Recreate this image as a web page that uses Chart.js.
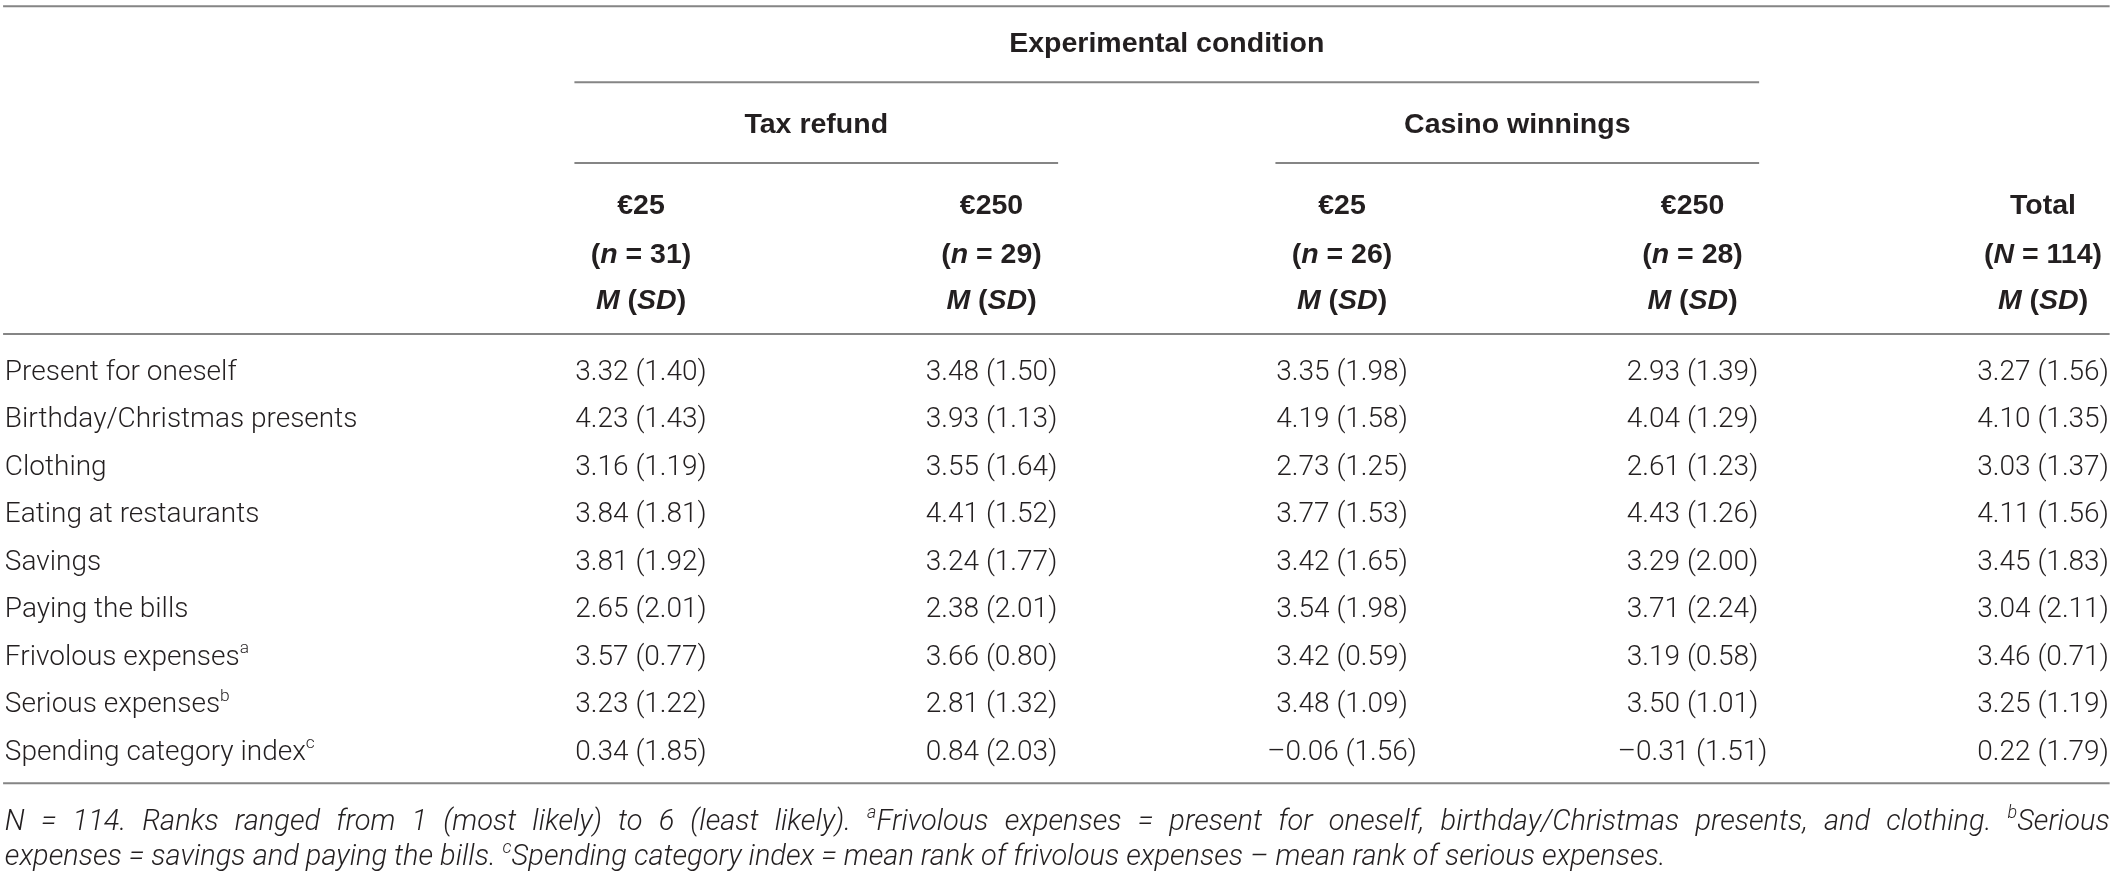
<!DOCTYPE html>
<html lang="en">
<head>
<meta charset="utf-8">
<title>Spending category ranks by experimental condition</title>
<script src="https://cdn.jsdelivr.net/npm/chart.js@4.4.1/dist/chart.umd.min.js"></script>
<style>
  html, body { margin: 0; padding: 0; background: #fff; }
  canvas { display: block; }
</style>
</head>
<body>
<canvas id="table" width="2117" height="876"></canvas>
<script>

// row labels and their footnote marks
var categories = ['Present for oneself', 'Birthday/Christmas presents', 'Clothing',
                  'Eating at restaurants', 'Savings', 'Paying the bills',
                  'Frivolous expenses', 'Serious expenses', 'Spending category index'];
var categoryNotes = ['', '', '', '', '', '', 'a', 'b', 'c'];

// column headings
var spanner = 'Experimental condition';
var conditions = ['Tax refund', 'Casino winnings'];
var amounts = ['€25', '€250', '€25', '€250', 'Total'];
var sampleSizes = [31, 29, 26, 28, 114];

// M (SD) per column
var taxRefund25M  = [3.32, 4.23, 3.16, 3.84, 3.81, 2.65, 3.57, 3.23, 0.34];
var taxRefund25SD = [1.40, 1.43, 1.19, 1.81, 1.92, 2.01, 0.77, 1.22, 1.85];
var taxRefund250M  = [3.48, 3.93, 3.55, 4.41, 3.24, 2.38, 3.66, 2.81, 0.84];
var taxRefund250SD = [1.50, 1.13, 1.64, 1.52, 1.77, 2.01, 0.80, 1.32, 2.03];
var casino25M  = [3.35, 4.19, 2.73, 3.77, 3.42, 3.54, 3.42, 3.48, -0.06];
var casino25SD = [1.98, 1.58, 1.25, 1.53, 1.65, 1.98, 0.59, 1.09, 1.56];
var casino250M  = [2.93, 4.04, 2.61, 4.43, 3.29, 3.71, 3.19, 3.50, -0.31];
var casino250SD = [1.39, 1.29, 1.23, 1.26, 2.00, 2.24, 0.58, 1.01, 1.51];
var totalM  = [3.27, 4.10, 3.03, 4.11, 3.45, 3.04, 3.46, 3.25, 0.22];
var totalSD = [1.56, 1.35, 1.37, 1.56, 1.83, 2.11, 0.71, 1.19, 1.79];

var columnMeans = [taxRefund25M, taxRefund250M, casino25M, casino250M, totalM];
var columnSDs = [taxRefund25SD, taxRefund250SD, casino25SD, casino250SD, totalSD];

// table note, as runs of text (i = italic, sup = superscript)
var noteLine1 = [
  {t: 'N = 114. Ranks ranged from 1 (most likely) to 6 (least likely). ', i: 1},
  {t: 'a', i: 1, sup: 1},
  {t: 'Frivolous expenses = present for oneself, birthday/Christmas presents, and clothing. ', i: 1},
  {t: 'b', i: 1, sup: 1},
  {t: 'Serious', i: 1}
];
var noteLine2 = [
  {t: 'expenses = savings and paying the bills. ', i: 1},
  {t: 'c', i: 1, sup: 1},
  {t: 'Spending category index = mean rank of frivolous expenses \u2013 mean rank of serious expenses.', i: 1}
];


// where things sit, in scale units (x: column number, y: row number)
var labelX = -0.815, ruleLeft = -0.82, ruleRight = 5.19, spanHalf = 0.19;
var rows = {
  topRule: -7.66, spanner: -6.9, spannerRule: -6.06, condition: -5.2, conditionRule: -4.36,
  amount: -3.49, size: -2.47, stat: -1.49, headRule: -0.76,
  bottomRule: 8.7, note1: 9.47, note2: 10.2
};

var FONT = 'Roboto, "Liberation Sans", Arial, sans-serif';
var BOLD_FONT = '"Liberation Sans", Arial, sans-serif';
var SIZE = 28, BOLD_SIZE = 28.5, NOTE_SIZE = 29;
var INK = '#231f20', RULE = '#858585';

function fontFor(r, size) {
  if (r.b) return (r.i ? 'italic ' : '') + '700 ' + size + 'px ' + BOLD_FONT;
  return (r.i ? 'italic ' : '') + '300 ' + size + 'px ' + FONT;
}

function fmt(v) {
  return (v < 0 ? '\u2013' : '') + Math.abs(v).toFixed(2);
}

// draw a line of mixed-style text; y is the visual middle of the capitals
function drawRuns(ctx, runs, x, y, size, align, fullWidth) {
  var total = 0, spaces = 0;
  runs.forEach(function (r) {
    ctx.font = fontFor(r, r.sup ? size * 0.62 : size);
    total += ctx.measureText(r.t).width;
    spaces += (r.t.match(/ /g) || []).length;
  });
  var extra = (fullWidth && spaces) ? (fullWidth - total) / spaces : 0;
  if (fullWidth) total = fullWidth;
  var cx = align === 'center' ? x - total / 2 : (align === 'right' ? x - total : x);
  var base = y + size * 0.355;
  ctx.textAlign = 'left';
  ctx.textBaseline = 'alphabetic';
  ctx.fillStyle = INK;
  runs.forEach(function (r) {
    ctx.font = fontFor(r, r.sup ? size * 0.62 : size);
    var yy = r.sup ? base - size * 0.42 : base;
    var sp = ctx.measureText(' ').width;
    r.t.split(' ').forEach(function (w, k) {
      if (k > 0) cx += sp + extra;
      ctx.fillText(w, cx, yy);
      cx += ctx.measureText(w).width;
    });
  });
}

function rule(ctx, x0, x1, y) {
  ctx.beginPath();
  ctx.moveTo(x0, y);
  ctx.lineTo(x1, y);
  ctx.stroke();
}

var tablePlugin = {
  id: 'tableText',
  afterDatasetsDraw: function (chart) {
    var ctx = chart.ctx, xs = chart.scales.x, ys = chart.scales.y;
    var X = function (v) { return xs.getPixelForValue(v); };
    var Y = function (v) { return ys.getPixelForValue(v); };
    ctx.save();

    // rules
    ctx.strokeStyle = RULE;
    ctx.lineWidth = 2;
    rule(ctx, X(ruleLeft), X(ruleRight), Y(rows.topRule));
    rule(ctx, X(1 - spanHalf), X(4 + spanHalf), Y(rows.spannerRule));
    rule(ctx, X(1 - spanHalf), X(2 + spanHalf), Y(rows.conditionRule));
    rule(ctx, X(3 - spanHalf), X(4 + spanHalf), Y(rows.conditionRule));
    rule(ctx, X(ruleLeft), X(ruleRight), Y(rows.headRule));
    rule(ctx, X(ruleLeft), X(ruleRight), Y(rows.bottomRule));

    // headings
    drawRuns(ctx, [{t: spanner, b: 1}], X(2.5), Y(rows.spanner), BOLD_SIZE, 'center');
    conditions.forEach(function (c, k) {
      drawRuns(ctx, [{t: c, b: 1}], X(1.5 + 2 * k), Y(rows.condition), BOLD_SIZE, 'center');
    });
    amounts.forEach(function (a, k) {
      var col = k + 1, isTotal = a === 'Total';
      drawRuns(ctx, [{t: a, b: 1}], X(col), Y(rows.amount), BOLD_SIZE, 'center');
      drawRuns(ctx, [{t: '(', b: 1}, {t: isTotal ? 'N' : 'n', b: 1, i: 1},
                     {t: ' = ' + sampleSizes[k] + ')', b: 1}], X(col), Y(rows.size), BOLD_SIZE, 'center');
      drawRuns(ctx, [{t: 'M', b: 1, i: 1}, {t: ' (', b: 1}, {t: 'SD', b: 1, i: 1}, {t: ')', b: 1}],
               X(col), Y(rows.stat), BOLD_SIZE, 'center');
    });

    // row labels
    categories.forEach(function (c, i) {
      var runs = [{t: c}];
      if (categoryNotes[i]) runs.push({t: categoryNotes[i], sup: 1});
      drawRuns(ctx, runs, X(labelX), Y(i), SIZE, 'left');
    });

    // cells, at the points the scatter datasets were placed on
    chart.data.datasets.forEach(function (ds, k) {
      chart.getDatasetMeta(k).data.forEach(function (pt, i) {
        var txt = fmt(columnMeans[k][i]) + ' (' + fmt(columnSDs[k][i]) + ')';
        drawRuns(ctx, [{t: txt}], pt.x, pt.y, SIZE, 'center');
      });
    });

    // note
    var noteWidth = X(ruleRight) - X(labelX);
    drawRuns(ctx, noteLine1, X(labelX), Y(rows.note1), NOTE_SIZE, 'left', noteWidth);
    drawRuns(ctx, noteLine2, X(labelX), Y(rows.note2), NOTE_SIZE, 'left');

    ctx.restore();
  }
};

function go() {
  var datasets = columnMeans.map(function (means, k) {
    return {
      label: amounts[k],
      data: means.map(function (m, i) { return {x: k + 1, y: i}; }),
      pointRadius: 0,
      pointHoverRadius: 0
    };
  });

  new Chart(document.getElementById('table'), {
    type: 'scatter',
    data: {datasets: datasets},
    options: {
      responsive: false,
      animation: false,
      events: [],
      layout: {padding: 0},
      plugins: {legend: {display: false}, tooltip: {enabled: false}},
      scales: {
        x: {type: 'linear', min: -0.8288, max: 5.211, display: false},
        y: {type: 'linear', reverse: true, min: -7.789, max: 10.653, display: false}
      }
    },
    plugins: [tablePlugin]
  });
}

if (document.fonts && document.fonts.load) {
  Promise.all([document.fonts.load('300 28px Roboto'), document.fonts.load('700 28px "Liberation Sans"'),
               document.fonts.load('italic 700 28px "Liberation Sans"'),
               document.fonts.load('italic 300 28px Roboto')]).then(go, go);
} else {
  go();
}
</script>
</body>
</html>
